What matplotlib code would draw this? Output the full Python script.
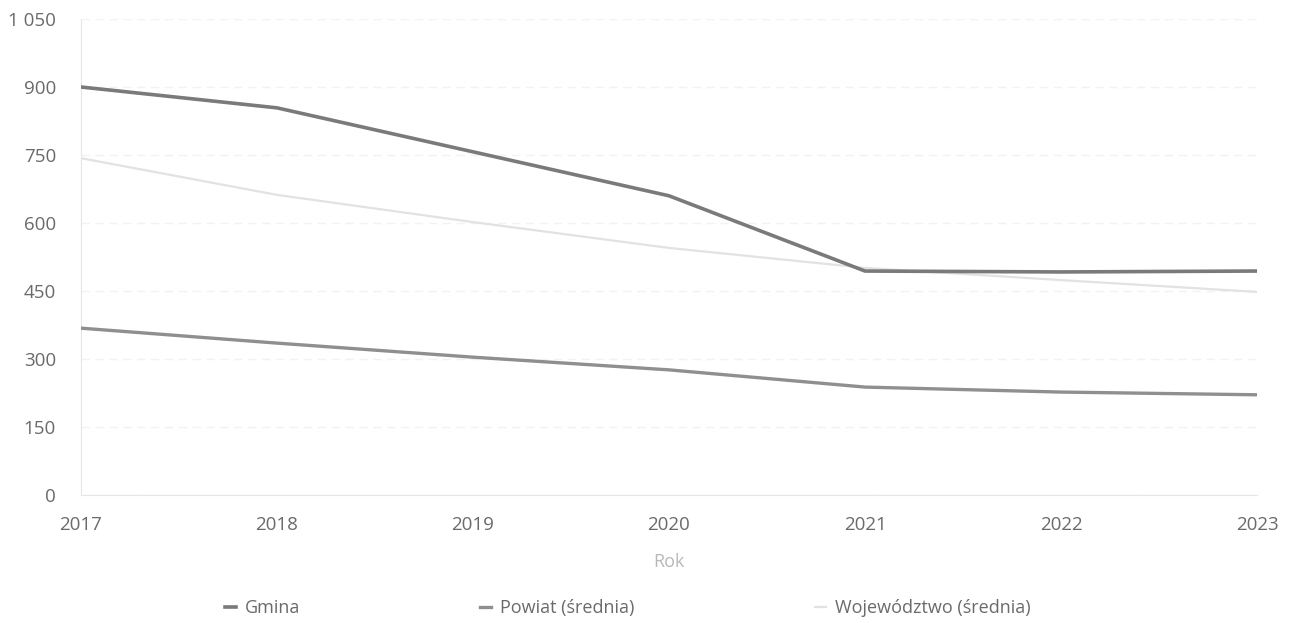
import numpy as np
import matplotlib.pyplot as plt
from matplotlib.ticker import FuncFormatter

years = [2017, 2018, 2019, 2020, 2021, 2022, 2023]
gmina = [900, 854, 757, 660, 494, 492, 494]
powiat = [368, 335, 304, 276, 238, 227, 221]
wojewodztwo = [743, 662, 602, 545, 501, 474, 448]

plt.rcParams['font.family'] = ['Open Sans', 'DejaVu Sans']

fig = plt.figure(figsize=(12.89, 6.23), dpi=100)
ax = fig.add_axes([0.0628, 0.2055, 0.9124, 0.764])

ax.plot(years, wojewodztwo, color='#e2e2e2', lw=1.6, label='Województwo (średnia)', zorder=2)
ax.plot(years, powiat, color='#8f8f8f', lw=2.4, label='Powiat (średnia)', zorder=3)
ax.plot(years, gmina, color='#7a7a7a', lw=2.6, label='Gmina', zorder=4)

ax.set_xlim(2017, 2023)
ax.set_ylim(0, 1050)
ax.set_yticks(np.arange(0, 1051, 150))
ax.set_xticks(years)
ax.yaxis.set_major_formatter(FuncFormatter(lambda v, p: f"{int(v):,}".replace(",", " ")))

ax.grid(axis='y', color='#f2f2f2', lw=1, ls=(0, (6, 4)))
for s in ['top', 'right']:
    ax.spines[s].set_visible(False)
ax.spines['left'].set_color('#e6e6e6')
ax.spines['bottom'].set_color('#e6e6e6')
ax.tick_params(axis='both', length=0, labelsize=13.5, colors='#6a6a6a')
ax.tick_params(axis='y', pad=18)
ax.tick_params(axis='x', pad=15)

ax.set_xlabel('Rok', fontsize=13, color='#b8b8b8', labelpad=14)

handles, labels = ax.get_legend_handles_labels()
order = [2, 1, 0]
leg = fig.legend([handles[i] for i in order], [labels[i] for i in order],
                 loc='center', bbox_to_anchor=(0.487, 0.024), ncol=3, frameon=False,
                 fontsize=13, handlelength=0.6, handletextpad=0.5, columnspacing=10)
for t in leg.get_texts():
    t.set_color('#6a6a6a')

fig.savefig('out.png', dpi=100)
